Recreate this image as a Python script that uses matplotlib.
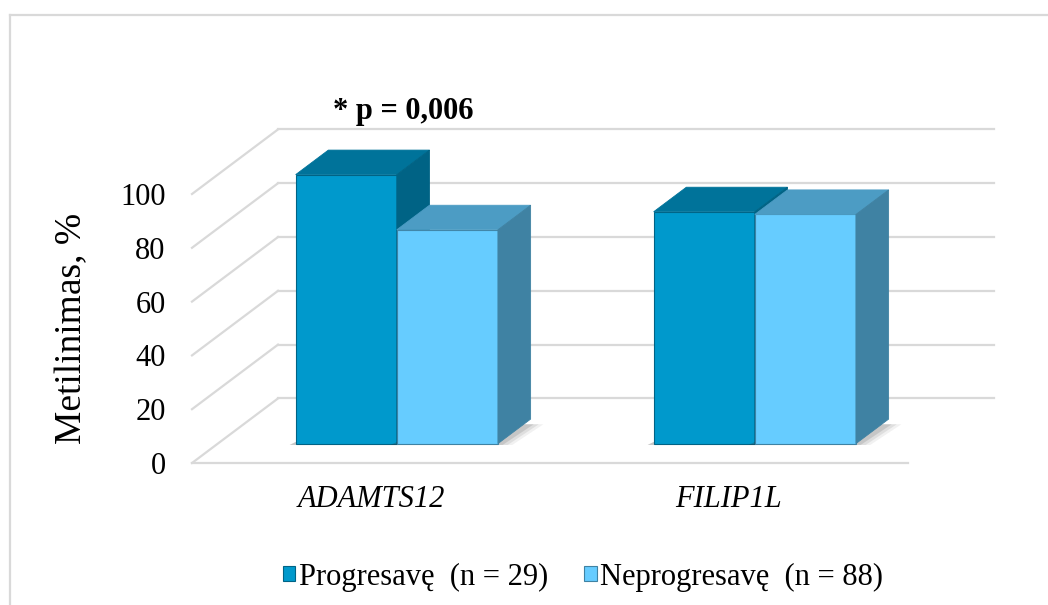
import matplotlib
matplotlib.use("Agg")
import matplotlib.pyplot as plt
from matplotlib.patches import Polygon, Patch
from matplotlib.lines import Line2D

# ---- data ----
genes = ["ADAMTS12", "FILIP1L"]
series_names = ["Progresavę  (n = 29)", "Neprogresavę  (n = 88)"]
progresave = [100.0, 86.2]
neprogresave = [79.5, 85.2]
y_ticks = [0, 20, 40, 60, 80, 100]
y_label = "Metilinimas, %"
annotation = "* p = 0,006"

# ---- style ----
front_cols = ["#0099CC", "#66CCFF"]
top_cols = ["#00739A", "#4C9CC4"]
side_cols = ["#006385", "#3F82A3"]
grid_col = "#D9D9D9"

plt.rcParams['font.family'] = ['Liberation Serif', 'DejaVu Serif']

W, H = 1048, 605
fig = plt.figure(figsize=(W / 100, H / 100), dpi=100)
fig.patch.set_facecolor("white")

# front plane of the 3-D box, in pixels
left_px, right_px = 192, 908
floor_px, top_px = 463, 194
ax = fig.add_axes([left_px / W, 1 - floor_px / H,
                   (right_px - left_px) / W, (floor_px - top_px) / H])
ax.set_xlim(-0.5, 1.5)
ax.set_ylim(0, 100)
for s in ax.spines.values():
    s.set_visible(False)
ax.patch.set_alpha(0)

# oblique depth offset for a full-depth step (data units)
DX = 86 / 358
DY = 24.0


def proj(x, y, d):
    return (x + d * DX, y + d * DY)


# gridlines: back wall and left side wall
for v in y_ticks:
    p0, p1 = proj(-0.5, v, 1), proj(1.5, v, 1)
    ax.add_line(Line2D([p0[0], p1[0]], [p0[1], p1[1]], color=grid_col, lw=1.6,
                       clip_on=False, zorder=1))
    q0, q1 = proj(-0.5, v, 0), proj(-0.5, v, 1)
    ax.add_line(Line2D([q0[0], q1[0]], [q0[1], q1[1]], color=grid_col, lw=1.6,
                       clip_on=False, zorder=1))
f0, f1 = proj(-0.5, 0, 0), proj(1.5, 0, 0)
ax.add_line(Line2D([f0[0], f1[0]], [f0[1], f1[1]], color=grid_col, lw=1.6,
                   clip_on=False, zorder=1))

# bars
bar_w = 0.2825
d0, d1 = 0.30, 0.68
values = [progresave, neprogresave]


def poly(pts, **kw):
    ax.add_patch(Polygon(pts, closed=True, clip_on=False, **kw))


z = 2
for i, gene in enumerate(genes):
    for j in range(len(values)):
        v = values[j][i]
        x0 = i - bar_w + j * bar_w
        x1 = x0 + bar_w
        # soft floor shadow, strongest close to the bar
        for sh, a in [(0.045, 0.07), (0.032, 0.10), (0.018, 0.14)]:
            poly([proj(x0 - 0.012, 0, d0 - 0.02),
                  proj(x1 + sh, 0, d0 - 0.02),
                  proj(x1 + sh + 0.01, 0, d1 - 0.08),
                  proj(x0 + 0.03, 0, d1 - 0.08)],
                 facecolor="#3a3a3a", edgecolor="none", alpha=a, zorder=z)
        z += 1
        # front face
        poly([proj(x0, 0, d0), proj(x1, 0, d0), proj(x1, v, d0), proj(x0, v, d0)],
             facecolor=front_cols[j], edgecolor=side_cols[j], lw=0.8, zorder=z)
        # top face
        poly([proj(x0, v, d0), proj(x1, v, d0), proj(x1, v, d1), proj(x0, v, d1)],
             facecolor=top_cols[j], edgecolor=top_cols[j], lw=0.6, zorder=z)
        # right side face
        poly([proj(x1, 0, d0), proj(x1, 0, d1), proj(x1, v, d1), proj(x1, v, d0)],
             facecolor=side_cols[j], edgecolor=side_cols[j], lw=0.6, zorder=z)
        z += 1

# axes labels
ax.set_yticks(y_ticks)
ax.set_yticklabels([str(t) for t in y_ticks], fontsize=22)
ax.set_xticks(range(len(genes)))
ax.set_xticklabels(genes, fontsize=22, style="italic")
ax.tick_params(axis="y", length=0, pad=19)
ax.tick_params(axis="x", length=0, pad=16)
ax.set_ylabel(y_label, fontsize=27, labelpad=22)

# significance note
ax.text(0.09, 130.5, annotation, fontsize=22, fontweight="bold",
        ha="center", va="center", clip_on=False)

# legend
handles = [Patch(facecolor=front_cols[k], edgecolor=side_cols[k], lw=0.8)
           for k in range(2)]
fig.legend(handles, series_names, loc="center", ncol=2, frameon=False,
           bbox_to_anchor=(583 / W, 1 - 577 / H), fontsize=22,
           handlelength=0.4, handleheight=0.4, handletextpad=0.12,
           columnspacing=1.2)

# chart-area border (top and left edges)
fig.add_artist(Line2D([9.5 / W, 1.01], [1 - 15 / H, 1 - 15 / H],
                      transform=fig.transFigure, color=grid_col, lw=1.6))
fig.add_artist(Line2D([9.5 / W, 9.5 / W], [1 - 15 / H, -0.01],
                      transform=fig.transFigure, color=grid_col, lw=1.6))

fig.savefig("out.png", dpi=100)
